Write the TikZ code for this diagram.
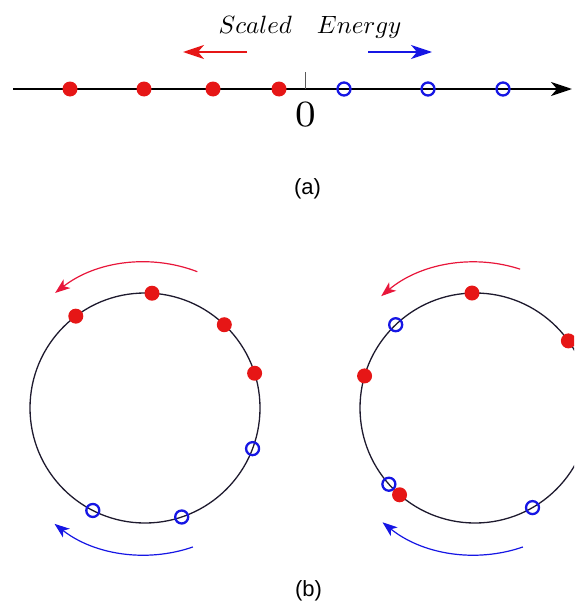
\documentclass[tikz,border=0pt]{standalone}
\usepackage{fontspec}
\newfontfamily\helv{Liberation Sans}
\usepackage{tikz}
\usetikzlibrary{arrows.meta,calc,positioning}
\definecolor{dotred}{RGB}{230,22,22}
\definecolor{dotblue}{RGB}{22,22,228}
\definecolor{arcred}{RGB}{232,22,58}
\definecolor{ringc}{RGB}{30,26,46}

\begin{document}
\begin{tikzpicture}[x=1pt,y=1pt,
  full/.style={circle,fill=dotred,inner sep=0pt,minimum size=15pt},
  hollow/.style={circle,draw=dotblue,line width=2.3pt,inner sep=0pt,minimum size=13pt},
  bigtip/.style={-{Stealth[length=21pt,width=14pt,inset=6pt]}},
  arctip/.style={-{Stealth[length=15pt,width=11pt,inset=4pt]}},
  sublabel/.style={font=\helv\fontsize{22}{26}\selectfont}]
  \clip (0,0) rectangle (574,-602);

  % (a) the energy axis
  \coordinate (ax0) at (13,-89);
  \coordinate (ax1) at (572,-89);
  \draw[bigtip,line width=2.2pt] (ax0) -- (ax1);
  \coordinate (t0) at (305,-89);
  \coordinate (t1) at (305,-72);
  \draw[gray!70!black,line width=1pt] (t0) -- (t1);
  \node[scale=5.3] (zero) at (305.5,-114.5) {$\scriptstyle 0$};
  \node[anchor=base,scale=2.5] (lab) at (310,-34) {$Scaled\quad Energy$};
  \coordinate (rl0) at (247,-52);
  \coordinate (rl1) at (183,-52);
  \coordinate (bl0) at (368,-52);
  \coordinate (bl1) at (432,-52);
  \draw[bigtip,dotred,line width=1.5pt] (rl0) -- (rl1);
  \draw[bigtip,dotblue,line width=1.5pt] (bl0) -- (bl1);
  \foreach \x [count=\i] in {70,144,213,279}
    \node[full] (a\i) at (\x,-89) {};
  \foreach \x [count=\i] in {344,428,503}
    \node[hollow] (b\i) at (\x,-89) {};
  \node[sublabel] (capa) at (307.5,-188.5) {(a)};

  % (b) the two rings
  \coordinate (L) at (145,-408);
  \coordinate (R) at (475,-408);
  \draw[ringc,line width=1.3pt] (L) circle[radius=115];
  \draw[ringc,line width=1.3pt] (R) circle[radius=115];
  \draw[arctip,arcred,line width=1.2pt] ($(L)+(69:146)$) arc[start angle=69,end angle=128,radius=146];
  \draw[arctip,dotblue,line width=1.2pt] ($(L)+(-71:147)$) arc[start angle=-71,end angle=-128,radius=147];
  \draw[arctip,arcred,line width=1.2pt] ($(R)+(72:146)$) arc[start angle=72,end angle=130,radius=146];
  \draw[arctip,dotblue,line width=1.2pt] ($(R)+(-71:147)$) arc[start angle=-71,end angle=-129,radius=147];
  \foreach \t [count=\i] in {86.5,127,46.4,17.6}
    \node[full] (Lr\i) at ($(L)+(\t:115)$) {};
  \foreach \t [count=\i] in {-20.7,-117,-71.4}
    \node[hollow] (Lb\i) at ($(L)+(\t:115)$) {};
  \foreach \t [count=\i] in {133.6,-138.5,-60}
    \node[hollow] (Rb\i) at ($(R)+(\t:115)$) {};
  \foreach \t [count=\i] in {91.5,35.7,163.8,-131}
    \node[full] (Rr\i) at ($(R)+(\t:115)$) {};
  \node[sublabel] (capb) at (308.5,-591) {(b)};
\end{tikzpicture}
\end{document}
